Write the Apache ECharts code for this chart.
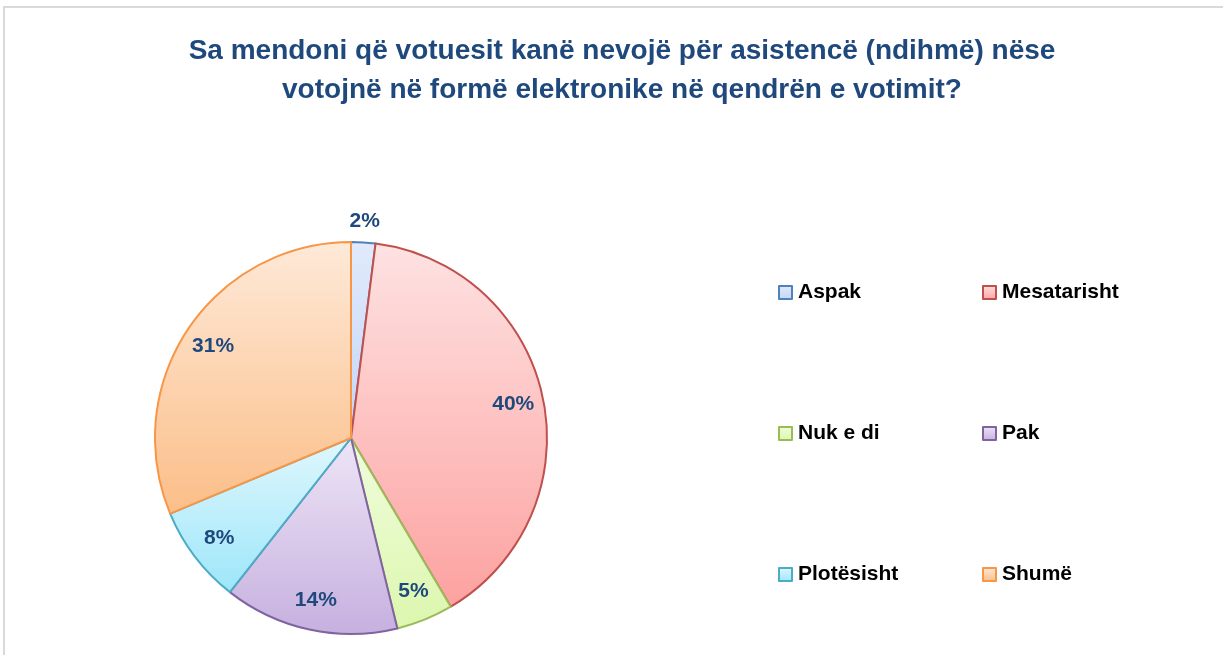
<!DOCTYPE html>
<html>
<head>
<meta charset="utf-8">
<script src="https://cdn.jsdelivr.net/npm/echarts@6/dist/echarts.min.js"></script>
<style>
  html, body { margin: 0; padding: 0; background: #fff; }
  #frame { position: absolute; left: 3px; top: 6px; width: 1230px; height: 660px; border: 2px solid #d9d9d9; box-sizing: border-box; }
  #chart { position: absolute; left: 0; top: 0; width: 1223px; height: 655px; }
</style>
</head>
<body>
<div id="frame"></div>
<div id="chart"></div>
<script>
var categories = ['Aspak', 'Mesatarisht', 'Nuk e di', 'Pak', 'Plotësisht', 'Shumë']
var values = [2.0, 39.5, 4.7, 14.4, 8.1, 31.3]
var borderColors = ['#4F81BD', '#C0504D', '#9BBB59', '#8064A2', '#4BACC6', '#F79646']
var topColors = ['#E1EAFB', '#FEE2E2', '#F0FCDC', '#EEE5F6', '#E0F7FD', '#FEE9D8']
var bottomColors = ['#C3D6F7', '#FCA2A0', '#DCF7AE', '#C6B0DF', '#9DE6FA', '#FBBE88']

var center = [351, 438]
var radius = 196

function grad(i) {
  return new echarts.graphic.LinearGradient(0, 0, 0, 1, [
    { offset: 0, color: topColors[i] },
    { offset: 1, color: bottomColors[i] }
  ])
}

var mainData = categories.map(function (name, i) {
  return {
    name: name,
    value: values[i],
    itemStyle: { color: grad(i), borderColor: borderColors[i], borderWidth: 2 }
  }
})

var labelStyle = {
  color: '#1F497D',
  fontFamily: 'Liberation Sans',
  fontWeight: 'bold',
  fontSize: 21,
  formatter: function (p) { return Math.round(p.value) + '%' }
}

// ring overlays only carry the labels
var innerLabels = categories.map(function (name, i) {
  return { name: name, value: values[i], label: { show: i !== 0 } }
})
var outerLabels = categories.map(function (name, i) {
  return { name: name, value: values[i], label: { show: i === 0 } }
})

var legendText = { color: '#000', fontFamily: 'Liberation Sans', fontWeight: 'bold', fontSize: 21, padding: [0, 0, 0, 1] }

var chart = echarts.init(document.getElementById('chart'))
chart.setOption({
  animation: false,
  title: {
    text: 'Sa mendoni që votuesit kanë nevojë për asistencë (ndihmë) nëse\nvotojnë në formë elektronike në qendrën e votimit?',
    left: 617,
    textAlign: 'center',
    top: 27,
    textStyle: {
      color: '#1F497D',
      fontFamily: 'Liberation Sans',
      fontWeight: 'bold',
      fontSize: 28,
      lineHeight: 39
    }
  },
  legend: [
    {
      data: ['Aspak', 'Nuk e di', 'Plotësisht'],
      orient: 'vertical',
      left: 773,
      top: 277,
      itemWidth: 13,
      itemHeight: 13,
      itemGap: 120,
      icon: 'rect',
      selectedMode: false,
      itemStyle: { borderWidth: 2 },
      textStyle: legendText
    },
    {
      data: ['Mesatarisht', 'Pak', 'Shumë'],
      orient: 'vertical',
      left: 977,
      top: 277,
      itemWidth: 13,
      itemHeight: 13,
      itemGap: 120,
      icon: 'rect',
      selectedMode: false,
      itemStyle: { borderWidth: 2 },
      textStyle: legendText
    }
  ],
  series: [
    {
      name: 'main',
      type: 'pie',
      center: center,
      radius: radius,
      startAngle: 90,
      label: { show: false },
      labelLine: { show: false },
      emphasis: { disabled: true },
      data: mainData
    },
    {
      name: 'labelsInner',
      type: 'pie',
      center: center,
      radius: [radius * 0.66, radius],
      startAngle: 90,
      silent: true,
      itemStyle: { color: 'rgba(0,0,0,0)' },
      label: Object.assign({ position: 'inside' }, labelStyle),
      labelLine: { show: false },
      emphasis: { disabled: true },
      legendHoverLink: false,
      data: innerLabels
    },
    {
      name: 'labelsOuter',
      type: 'pie',
      center: center,
      radius: [radius, radius * 1.19],
      startAngle: 90,
      silent: true,
      itemStyle: { color: 'rgba(0,0,0,0)' },
      label: Object.assign({ position: 'inside' }, labelStyle),
      labelLine: { show: false },
      emphasis: { disabled: true },
      data: outerLabels
    }
  ]
})
</script>
</body>
</html>
